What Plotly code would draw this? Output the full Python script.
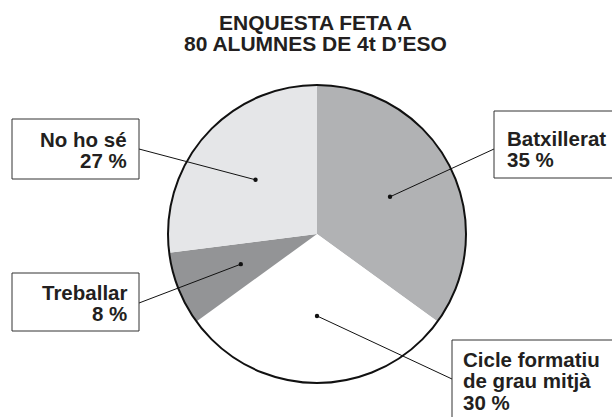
import math

import plotly.graph_objects as go

# Data
categories = ["Batxillerat", "Cicle formatiu de grau mitjà", "Treballar", "No ho sé"]
percentages = [35, 30, 8, 27]
label_lines = [
    ["Batxillerat"],
    ["Cicle formatiu", "de grau mitjà"],
    ["Treballar"],
    ["No ho sé"],
]
title_lines = ["ENQUESTA FETA A", "80 ALUMNES DE 4t D’ESO"]

slice_colors = ["#b1b2b4", "#ffffff", "#939496", "#e5e6e8"]
TEXT = "#231f20"
INK = "#111111"
FONT = "Liberation Sans, Arial, sans-serif"

W, H = 612, 417
CX, CY, R = 317, 234, 149  # pie centre / radius in pixels
DOT_R = 0.55  # where the leader dots sit, as a fraction of the radius
DOT = 2.2  # dot radius in pixels

# Label boxes: (x0, y0, x1, y1), leader start, text x, text anchor, first line y
boxes = [
    ((494, 111, 640, 178), (494, 149), 505, "left", 138),
    ((452, 340, 640, 440), (452, 379), 461, "left", 359),
    ((12, 273, 139, 331), (139, 303), 129, "right", 292),
    ((12, 119, 139, 179), (139, 149), 129, "right", 139),
]
LINE_STEP = 21.5

fig = go.Figure()

fig.add_trace(
    go.Pie(
        labels=categories,
        values=percentages,
        sort=False,
        direction="clockwise",
        rotation=0,
        marker=dict(colors=slice_colors, line=dict(width=0)),
        textinfo="none",
        hoverinfo="label+percent",
        showlegend=False,
        domain=dict(x=[(CX - R) / W, (CX + R) / W], y=[1 - (CY + R) / H, 1 - (CY - R) / H]),
    )
)

shapes = [
    dict(type="circle", xref="x", yref="y", x0=CX - R, x1=CX + R, y0=CY - R, y1=CY + R,
         line=dict(color=INK, width=2), layer="above"),
]
annotations = []

total = sum(percentages)
cum = 0
for i, (cat, pct) in enumerate(zip(categories, percentages)):
    mid = (cum + pct / 2) / total * 2 * math.pi
    cum += pct
    dx = CX + DOT_R * R * math.sin(mid)
    dy = CY - DOT_R * R * math.cos(mid)

    (bx0, by0, bx1, by1), (lx, ly), tx, align, ty = boxes[i]

    # leader line + dot (shapes so they sit above the pie)
    shapes.append(dict(type="line", xref="x", yref="y", x0=lx, y0=ly, x1=dx, y1=dy,
                       line=dict(color=INK, width=1), layer="above"))
    shapes.append(dict(type="circle", xref="x", yref="y", x0=dx - DOT, x1=dx + DOT,
                       y0=dy - DOT, y1=dy + DOT, fillcolor=INK, line=dict(width=0), layer="above"))

    shapes.append(
        dict(type="rect", xref="x", yref="y", x0=bx0, x1=bx1, y0=by0, y1=by1,
             line=dict(color="#333333", width=1), fillcolor="white", layer="above")
    )

    lines = label_lines[i] + [f"{pct} %"]
    for j, txt in enumerate(lines):
        annotations.append(
            dict(x=tx, y=ty + j * LINE_STEP, xref="x", yref="y", text=f"<b>{txt}</b>",
                 showarrow=False, xanchor=align, yanchor="middle",
                 font=dict(family=FONT, size=20.5, color=TEXT))
        )

for j, txt in enumerate(title_lines):
    annotations.append(
        dict(x=315, y=22 + j * 21, xref="x", yref="y", text=f"<b>{txt}</b>",
             showarrow=False, xanchor="center", yanchor="middle",
             font=dict(family=FONT, size=21, color=TEXT))
    )

fig.update_layout(
    width=W,
    height=H,
    margin=dict(l=0, r=0, t=0, b=0),
    paper_bgcolor="white",
    plot_bgcolor="white",
    xaxis=dict(range=[0, W], visible=False, fixedrange=True),
    yaxis=dict(range=[H, 0], visible=False, fixedrange=True),
    shapes=shapes,
    annotations=annotations,
)

# drop the browser's default body margin so the figure sits at the page corner
fig.write_html(
    "out.html",
    config={"displayModeBar": False},
    post_script="document.body.style.margin='0';",
)
